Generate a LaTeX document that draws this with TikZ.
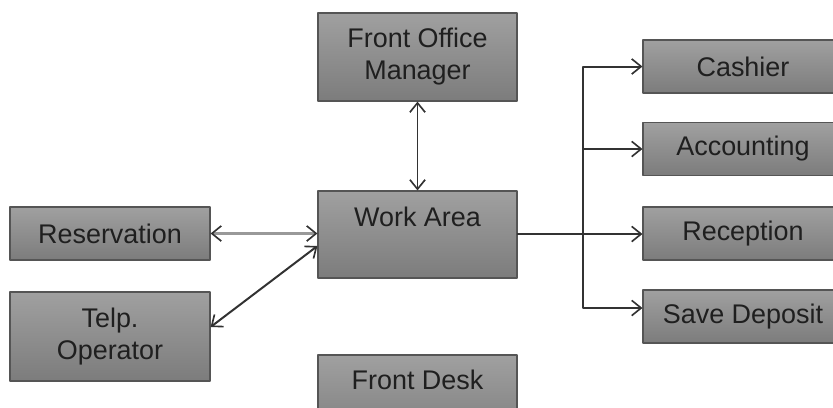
\documentclass[tikz,border=0pt]{standalone}
\usepackage{fontspec}
\setmainfont{Liberation Sans}
\usetikzlibrary{arrows.meta}

\definecolor{boxtop}{RGB}{160,160,160}
\definecolor{boxbot}{RGB}{124,124,124}
\definecolor{boxline}{RGB}{85,85,85}
\definecolor{wire}{RGB}{50,50,50}

\tikzset{
  unit/.style={draw=boxline,line width=1pt,top color=boxtop,bottom color=boxbot,
    text=black!88,align=center,inner sep=0pt,
    font=\fontsize{23}{27.3}\selectfont},
  barb/.tip={Straight Barb[length=8pt,width=13pt,line width=1.4pt,color=wire]},
  link/.style={draw=wire,line width=1.7pt,-barb},
  both/.style={link,barb-barb}
}

\begin{document}
\begin{tikzpicture}[x=0.03cm,y=-0.03cm,line cap=round,line join=round]

% page frame, pixel grid of the original
\useasboundingbox (0,0) rectangle (833,407);

% middle column
\node[unit,minimum width=5.97cm,minimum height=2.64cm] (fom) at (417.5,57) {Front Office\\Manager};
\node[unit,minimum width=5.97cm,minimum height=2.61cm,
  label={[anchor=center,yshift=-0.78cm,font=\fontsize{23}{27.3}\selectfont,text=black!88]north:Work Area}] (work) at (417.5,234.5) {};
\node[unit,minimum width=5.97cm,minimum height=2.61cm,
  label={[anchor=center,yshift=-0.75cm,font=\fontsize{23}{27.3}\selectfont,text=black!88]north:Front Desk}] (desk) at (417.5,398.5) {};

% left column
\node[unit,minimum width=6cm,minimum height=1.59cm] (res) at (110,233.5) {Reservation};
\node[unit,minimum width=6cm,minimum height=2.67cm] (telp) at (110,336.5) {Telp.\\Operator};

% right column (cut off by the page edge)
\node[unit,minimum width=6cm,minimum height=1.59cm] (cash) at (743,66.5) {Cashier};
\node[unit,minimum width=6cm,minimum height=1.59cm] (acct) at (743,149) {Accounting};
\node[unit,minimum width=6cm,minimum height=1.59cm] (recep) at (743,233.5) {Reception};
\node[unit,minimum width=6cm,minimum height=1.59cm] (save) at (743,316.5) {Save Deposit};

% two-way links
\draw[both] (fom.south) -- (work.north);
\draw[both,draw=gray!80,line width=2.6pt] (res.east) -- (work.west |- res.east);
\draw[both] (telp.east |- 0,327) -- (work.west |- 0,246);

% fan-out to the right
\coordinate (tr) at (583,234);
\coordinate (sv) at (583,308);
\draw[link] (work.east |- tr) -- (recep.west |- tr);
\draw[link] (tr) |- (cash.west);
\draw[link] (tr) |- (acct.west);
\draw[link] (tr) -- (sv) -- (sv -| save.west);

\end{tikzpicture}
\end{document}
